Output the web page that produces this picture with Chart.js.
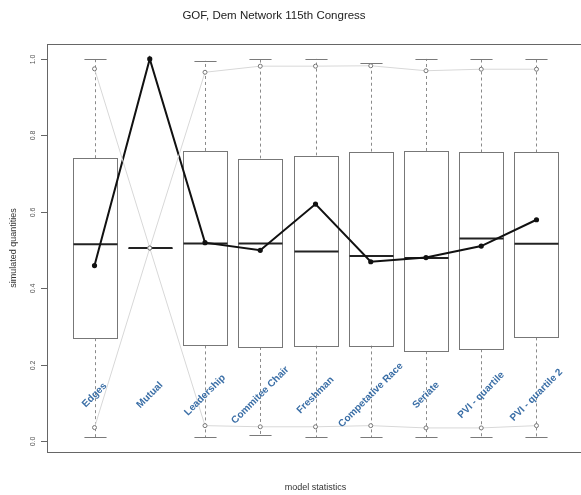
<!DOCTYPE html>
<html>
<head>
<meta charset="utf-8">
<script src="https://cdn.jsdelivr.net/npm/chart.js@4.4.0/dist/chart.umd.min.js"></script>
<style>
  html, body { margin: 0; padding: 0; overflow: hidden; background: #fff; }
  #wrap { width: 600px; height: 495px; }
</style>
</head>
<body>
<div id="wrap"><canvas id="gof" width="600" height="495"></canvas></div>
<script>
// model statistics (x categories)
const categories = ['Edges', 'Mutual', 'Leadership', 'Commitee Chair', 'Freshman',
                    'Competative Race', 'Seriate', 'PVI - quartile', 'PVI - quartile 2'];

// box plot summaries of the simulated quantities
const whiskerLow  = [0.010, 0.505, 0.010, 0.015, 0.010, 0.010, 0.010, 0.010, 0.010];
const boxLow      = [0.269, 0.505, 0.250, 0.246, 0.250, 0.250, 0.235, 0.240, 0.271];
const medians     = [0.515, 0.505, 0.517, 0.517, 0.496, 0.484, 0.479, 0.530, 0.516];
const boxHigh     = [0.740, 0.505, 0.759, 0.739, 0.747, 0.757, 0.759, 0.755, 0.755];
const whiskerHigh = [1.000, 0.505, 0.995, 1.000, 1.000, 0.990, 1.000, 1.000, 1.000];

// grey quantile lines and the observed network (black)
const upperLine = [0.974, 0.505, 0.965, 0.981, 0.981, 0.982, 0.969, 0.973, 0.973];
const lowerLine = [0.035, 0.505, 0.040, 0.037, 0.037, 0.040, 0.034, 0.034, 0.040];
const observed  = [0.459, 1.000, 0.519, 0.499, 0.620, 0.469, 0.480, 0.510, 0.579];

const yTicks = [0.0, 0.2, 0.4, 0.6, 0.8, 1.0];
const yTickLabels = ['0.0', '0.2', '0.4', '0.6', '0.8', '1.0'];

const FONT = '"Liberation Sans", Arial, Helvetica, sans-serif';
const xy = arr => arr.map((v, i) => ({ x: i + 1, y: v }));

// draws the boxes, whiskers, frame and all the R-style text
const boxPlotPlugin = {
    id: 'boxPlot',
    beforeDatasetsDraw(chart) {
        const ctx = chart.ctx;
        const xs = chart.scales.x, ys = chart.scales.y;
        const unit = xs.getPixelForValue(2) - xs.getPixelForValue(1);
        const half = unit * 0.4, cap = unit * 0.2;

        ctx.save();
        categories.forEach((c, i) => {
            const cx = Math.round(xs.getPixelForValue(i + 1)) + 0.5;
            const yWl = ys.getPixelForValue(whiskerLow[i]);
            const yQ1 = ys.getPixelForValue(boxLow[i]);
            const yMd = ys.getPixelForValue(medians[i]);
            const yQ3 = ys.getPixelForValue(boxHigh[i]);
            const yWh = ys.getPixelForValue(whiskerHigh[i]);

            // dashed whiskers
            ctx.strokeStyle = '#8a8a8a';
            ctx.lineWidth = 1;
            ctx.setLineDash([3, 3]);
            ctx.beginPath();
            ctx.moveTo(cx, yQ3); ctx.lineTo(cx, yWh);
            ctx.moveTo(cx, yQ1); ctx.lineTo(cx, yWl);
            ctx.stroke();
            ctx.setLineDash([]);

            // staples
            ctx.strokeStyle = '#7a7a7a';
            ctx.beginPath();
            ctx.moveTo(cx - cap, Math.round(yWh) + 0.5); ctx.lineTo(cx + cap, Math.round(yWh) + 0.5);
            ctx.moveTo(cx - cap, Math.round(yWl) + 0.5); ctx.lineTo(cx + cap, Math.round(yWl) + 0.5);
            ctx.stroke();

            // box
            ctx.strokeStyle = '#777';
            ctx.fillStyle = '#fff';
            const bx = Math.round(cx - half) + 0.5, bw = Math.round(half * 2);
            ctx.fillRect(bx, yQ3, bw, yQ1 - yQ3);
            ctx.strokeRect(bx, Math.round(yQ3) + 0.5, bw, Math.round(yQ1 - yQ3));

            // median
            ctx.strokeStyle = '#222';
            ctx.lineWidth = 2;
            ctx.beginPath();
            ctx.moveTo(bx, yMd); ctx.lineTo(bx + bw, yMd);
            ctx.stroke();
        });
        ctx.restore();
    },
    afterDraw(chart) {
        const ctx = chart.ctx;
        const area = chart.chartArea;
        const xs = chart.scales.x, ys = chart.scales.y;

        ctx.save();
        // plot frame
        ctx.strokeStyle = '#666';
        ctx.lineWidth = 1;
        ctx.strokeRect(Math.round(area.left) + 0.5, Math.round(area.top) + 0.5,
                       Math.round(area.right - area.left), Math.round(area.bottom - area.top));

        // y ticks and rotated tick labels
        ctx.fillStyle = '#555';
        ctx.font = '7px ' + FONT;
        ctx.textAlign = 'center';
        ctx.textBaseline = 'middle';
        yTicks.forEach((t, i) => {
            const py = Math.round(ys.getPixelForValue(t)) + 0.5;
            ctx.beginPath();
            ctx.moveTo(area.left - 6, py); ctx.lineTo(area.left, py);
            ctx.stroke();
            ctx.save();
            ctx.translate(area.left - 14, py);
            ctx.rotate(-Math.PI / 2);
            ctx.fillText(yTickLabels[i], 0, 0);
            ctx.restore();
        });

        // y axis title
        ctx.fillStyle = '#333';
        ctx.font = '9px ' + FONT;
        ctx.save();
        ctx.translate(14, (area.top + area.bottom) / 2);
        ctx.rotate(-Math.PI / 2);
        ctx.fillText('simulated quantities', 0, 0);
        ctx.restore();

        // x axis title
        ctx.fillText('model statistics', (area.left + area.right) / 2, 488);

        // main title
        ctx.fillStyle = '#222';
        ctx.font = '11.5px ' + FONT;
        ctx.fillText('GOF, Dem Network 115th Congress', 274, 16);

        // blue category labels, rotated 45 degrees
        ctx.fillStyle = '#3a6ea6';
        ctx.font = 'bold 10px ' + FONT;
        categories.forEach((c, i) => {
            ctx.save();
            ctx.translate(xs.getPixelForValue(i + 1), ys.getPixelForValue(0.12));
            ctx.rotate(-Math.PI / 4);
            ctx.fillText(c, 0, 0);
            ctx.restore();
        });
        ctx.restore();
    }
};

const quantileStyle = {
    borderColor: '#d8d8d8',
    borderWidth: 1,
    pointRadius: 2,
    pointBorderColor: '#777',
    pointBackgroundColor: '#fff',
    pointBorderWidth: 1,
    fill: false,
    tension: 0
};

new Chart(document.getElementById('gof'), {
    type: 'line',
    data: {
        datasets: [
            Object.assign({ label: 'upper', data: xy(upperLine) }, quantileStyle),
            Object.assign({ label: 'lower', data: xy(lowerLine) }, quantileStyle),
            {
                label: 'observed',
                data: xy(observed),
                borderColor: '#111',
                borderWidth: 2,
                pointRadius: 1.6,
                pointBackgroundColor: '#111',
                pointBorderColor: '#111',
                fill: false,
                tension: 0
            }
        ]
    },
    options: {
        responsive: false,
        animation: false,
        layout: { padding: { left: 47, right: 16, top: 44, bottom: 43 } },
        plugins: {
            legend: { display: false },
            title: { display: false },
            tooltip: { enabled: false }
        },
        scales: {
            x: { type: 'linear', min: 0.14, max: 9.86, display: false },
            y: { type: 'linear', min: -0.029, max: 1.039, display: false }
        }
    },
    plugins: [boxPlotPlugin]
});
</script>
</body>
</html>
